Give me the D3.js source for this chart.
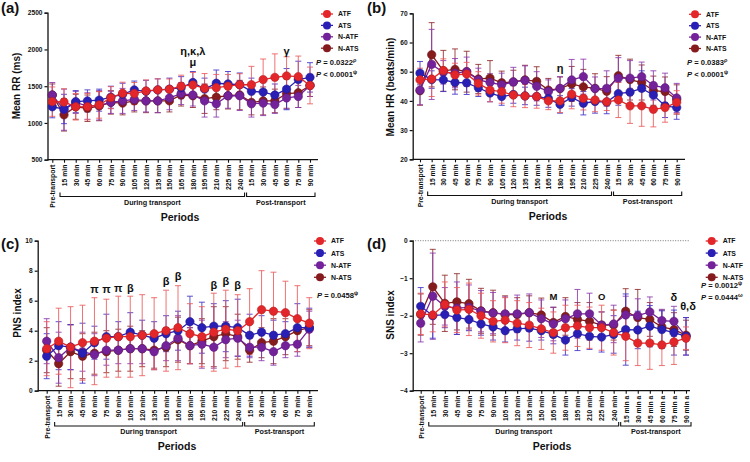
<!DOCTYPE html>
<html><head><meta charset="utf-8">
<script src="https://cdn.jsdelivr.net/npm/d3@7"></script>
<style>
body{margin:0;background:#fff}
svg{display:block}
text{font-family:"Liberation Sans",Arial,sans-serif;font-weight:bold;fill:#111}
</style>
</head><body><svg id="chart" width="750" height="462"></svg>
<script>
// ---------- categories / tick labels ----------
const periodLabels = ["Pre-transport","15 min","30 min","45 min","60 min","75 min","90 min","105 min","120 min","135 min","150 min","165 min","180 min","195 min","210 min","225 min","240 min","15 min","30 min","45 min","60 min","75 min","90 min"];
const periodLabelsD = ["Pre-transport","15 min","30 min","45 min","60 min","75 min","90 min","105 min","120 min","135 min","150 min","165 min","180 min","195 min","210 min","225 min","240 min","15 min a","30 min a","45 min a","60 min a","75 min a","90 min a"];
const seriesNames = ["ATF","ATS","N-ATF","N-ATS"];

// ---------- (a) Mean RR (ms) ----------
const rrATF  = [1290,1285,1220,1222,1245,1344,1404,1400,1435,1450,1458,1500,1517,1472,1480,1500,1520,1520,1590,1620,1640,1630,1510];
const rrATS  = [1220,1190,1290,1300,1310,1350,1390,1450,1430,1450,1460,1480,1550,1460,1540,1530,1520,1430,1420,1380,1460,1590,1620];
const rrNATF = [1380,1180,1280,1230,1240,1280,1300,1320,1300,1300,1340,1400,1380,1300,1260,1370,1370,1260,1270,1250,1340,1360,1510];
const rrNATS = [1380,1110,1220,1200,1230,1280,1270,1300,1300,1300,1300,1380,1370,1330,1350,1370,1380,1280,1300,1300,1400,1410,1510];
const rrATFsd  = [200,180,180,180,180,150,150,150,150,150,140,150,170,200,180,160,150,250,280,320,260,280,250];
const rrATSsd  = [150,200,150,150,150,150,150,120,150,150,150,150,150,150,180,170,160,180,160,150,280,250,200];
const rrNATFsd = [170,280,150,180,200,150,170,150,150,160,160,150,150,220,180,170,200,180,170,120,150,150,150];
const rrNATSsd = [150,220,170,180,200,160,160,150,160,160,150,150,160,200,170,180,200,170,190,160,200,200,150];

// ---------- (b) Mean HR (beats/min) ----------
const hrATF  = [47.2,47.5,50.4,48.9,49.2,46.0,43.7,43.2,42.0,41.7,41.5,40.0,40.0,42.3,40.9,40.3,39.7,40.3,38.3,38.3,37.1,37.7,39.5];
const hrATS  = [49.5,47.3,47.2,46.3,46.2,44.5,42.7,41.5,42.2,41.7,41.5,40.8,38.8,41.2,39.2,39.8,39.6,42.5,43.0,44.3,42.0,38.3,37.7];
const hrNATF = [43.7,52.5,49.8,49.5,50.0,47.2,46.3,45.5,46.5,47.0,45.0,43.2,44.3,47.2,48.3,44.2,44.3,47.8,47.8,48.3,45.3,44.5,41.0];
const hrNATS = [43.5,55.8,50.3,50.8,50.0,47.5,47.8,46.2,46.5,47.2,46.7,43.7,44.2,45.8,44.8,44.3,43.3,48.6,47.3,46.3,43.5,43.2,40.5];
const hrATFsd  = [4,6,4,4,4,4,4,4,4,4,4,3,4,5,4,4,3,6,6,7,6,5,4];
const hrATSsd  = [4,3,4,4,4,3,3,3,3,3,3,3,3,3,4,4,4,4,4,6,4,4,4];
const hrNATFsd = [5,12,4,5,5,4,3,4,5,5,5,4,4,7,6,4,6,7,6,5,5,5,5];
const hrNATSsd = [5,11,7,7,7,5,6,4,4,5,5,4,4,6,6,5,5,7,7,6,5,5,5];

// ---------- (c) PNS index ----------
const pnsATF  = [2.8,3.3,2.9,3.2,3.3,3.5,3.6,3.6,3.7,3.8,4.0,4.2,3.8,3.6,3.9,4.1,4.0,4.6,5.4,5.3,5.2,4.8,4.5];
const pnsATS  = [2.3,3.0,2.9,2.5,3.2,3.6,3.6,3.9,3.7,3.5,3.8,4.0,4.6,4.2,4.3,4.3,4.2,3.7,3.9,3.7,3.8,4.2,4.2];
const pnsNATF = [3.3,2.2,2.9,2.6,2.4,2.7,2.7,2.8,2.8,2.6,3.0,3.5,3.0,3.1,2.9,3.4,3.5,2.9,2.9,2.6,3.0,3.1,4.1];
const pnsNATS = [2.7,1.8,2.6,2.3,2.5,2.6,2.7,2.8,2.8,2.7,2.9,3.4,3.0,3.3,3.6,3.8,3.6,2.7,3.2,3.3,3.6,4.0,4.2];
const pnsATFsd  = [1.8,2.2,2.7,2.5,2.9,2.6,2.7,2.7,2.7,2.4,2.7,2.8,2.0,2.0,2.6,2.6,2.4,2.2,2.6,2.6,2.1,2.2,1.7];
const pnsATSsd  = [1.5,1.6,1.5,2.0,1.1,1.5,1.0,1.3,1.0,1.1,1.2,1.3,1.7,1.7,1.5,1.7,1.9,1.4,1.1,1.0,0.8,1.6,1.3];
const pnsNATFsd = [1.5,1.7,1.5,1.3,1.4,1.0,0.9,1.0,1.0,1.2,1.0,1.5,1.2,1.6,1.4,1.2,1.2,0.7,0.9,0.9,0.8,0.8,1.2];
const pnsNATSsd = [1.5,1.5,1.8,1.5,1.4,1.4,1.4,1.5,1.2,1.2,1.3,1.5,1.2,1.5,2.0,1.8,1.5,0.8,1.0,1.5,1.2,0.8,1.2];

// ---------- (d) SNS index ----------
const snsATF  = [-1.95,-1.98,-1.70,-1.85,-1.83,-2.00,-2.15,-2.12,-2.20,-2.25,-2.35,-2.45,-2.32,-2.27,-2.32,-2.32,-2.45,-2.55,-2.73,-2.73,-2.78,-2.70,-2.60];
const snsATS  = [-1.75,-2.00,-1.97,-2.05,-2.10,-2.22,-2.30,-2.40,-2.35,-2.33,-2.40,-2.50,-2.65,-2.48,-2.55,-2.57,-2.50,-2.37,-2.38,-2.28,-2.37,-2.45,-2.55];
const snsNATF = [-2.20,-1.48,-1.75,-1.80,-1.78,-1.88,-1.93,-1.95,-1.95,-1.92,-2.08,-2.22,-2.08,-1.95,-1.95,-2.25,-2.22,-1.98,-2.00,-1.90,-2.13,-2.15,-2.55];
const snsNATS = [-1.97,-1.23,-1.67,-1.63,-1.68,-1.87,-1.92,-1.97,-1.97,-1.92,-1.98,-2.18,-2.02,-2.10,-2.15,-2.25,-2.25,-1.88,-2.05,-2.10,-2.30,-2.37,-2.52];
const snsATFsd  = [0.55,0.45,0.6,0.6,0.7,0.6,0.55,0.6,0.6,0.6,0.55,0.55,0.6,0.55,0.55,0.6,0.6,0.65,0.6,0.7,0.55,0.6,0.3];
const snsATSsd  = [0.5,0.6,0.35,0.45,0.3,0.3,0.35,0.3,0.3,0.35,0.25,0.25,0.4,0.45,0.35,0.4,0.5,0.95,0.5,0.55,0.5,0.6,0.5];
const snsNATFsd = [0.5,1.15,0.5,0.7,0.6,0.55,0.55,0.45,0.5,0.5,0.5,0.45,0.5,0.65,0.55,0.35,0.5,0.5,0.45,0.4,0.3,0.4,0.5];
const snsNATSsd = [0.55,1.0,0.75,0.75,0.65,0.6,0.6,0.5,0.45,0.45,0.45,0.4,0.5,0.45,0.5,0.35,0.4,0.6,0.75,0.45,0.45,0.45,0.4];

// ---------- styles ----------
const lineColors = {"ATF":"#e3262a","ATS":"#2a1fb5","N-ATF":"#74229a","N-ATS":"#861b1e"};
const barColors  = {"ATF":"#ec5a5a","ATS":"#3f33c8","N-ATF":"#8a3aae","N-ATS":"#8f2a2a"};
const drawOrder = ["N-ATS","N-ATF","ATS","ATF"];

const svg = d3.select("#chart");

function drawPanel(cfg) {
  const g = svg.append("g");
  const idx = d3.range(cfg.labels.length);
  const x = d3.scalePoint().domain(idx).range([cfg.firstX, cfg.lastX]);
  const y = d3.scaleLinear().domain(cfg.domain).range([cfg.yBot, cfg.yTop]);

  if (cfg.zeroLine) {
    g.append("line").attr("x1", cfg.x0).attr("x2", cfg.axisEnd)
      .attr("y1", y(0)).attr("y2", y(0))
      .attr("stroke", "#777").attr("stroke-width", 1).attr("stroke-dasharray", "1,1.5");
  }

  const ya = g.append("g").attr("transform", `translate(${cfg.x0},0)`)
    .call(d3.axisLeft(y).tickValues(cfg.ticks).tickSize(3).tickPadding(2).tickFormat(d3.format("d")));
  ya.select(".domain").attr("stroke", "#111").attr("stroke-width", 1.3);
  ya.selectAll(".tick line").attr("stroke", "#111").attr("stroke-width", 1.2);
  ya.selectAll("text").style("font-size", "6.6px").style("font-family", '"Liberation Sans",Arial,sans-serif').style("font-weight", "bold").attr("fill", "#111");

  const xa = g.append("g").attr("transform", `translate(0,${cfg.yBot})`)
    .call(d3.axisBottom(x).tickSize(3).tickFormat(i => cfg.labels[i]));
  xa.select(".domain").remove();
  xa.append("line").attr("x1", cfg.x0).attr("x2", cfg.axisEnd).attr("y1", 0).attr("y2", 0)
    .attr("stroke", "#111").attr("stroke-width", 1.3);
  xa.selectAll(".tick line").attr("stroke", "#111").attr("stroke-width", 1.1);
  xa.selectAll("text").attr("transform", "rotate(-90)").attr("text-anchor", "end")
    .attr("x", -5).attr("y", 0).attr("dy", "0.35em")
    .style("font-size", "6.8px").style("font-family", '"Liberation Sans",Arial,sans-serif').style("font-weight", "bold").attr("fill", "#111");

  const bY = cfg.bracketY;
  const mid = (x(16) + x(17)) / 2;
  const b1s = x(1) - 4, b1e = mid - 1, b2s = mid + 1, b2e = x(22) + 5;
  g.append("path").attr("d", `M${b1s},${bY-4}V${bY}H${b1e}V${bY-4}`).attr("fill", "none").attr("stroke", "#111").attr("stroke-width", 1.1);
  g.append("path").attr("d", `M${b2s},${bY-4}V${bY}H${b2e}V${bY-4}`).attr("fill", "none").attr("stroke", "#111").attr("stroke-width", 1.1);
  g.append("text").attr("x", (b1s + b1e) / 2).attr("y", bY + 8).attr("text-anchor", "middle").style("font-size", "7.2px").text("During transport");
  g.append("text").attr("x", (b2s + b2e) / 2).attr("y", bY + 8).attr("text-anchor", "middle").style("font-size", "7.2px").text("Post-transport");
  g.append("text").attr("x", cfg.periodsX).attr("y", bY + 24).attr("text-anchor", "middle").style("font-size", "10.5px").text("Periods");

  g.append("text").attr("transform", `translate(${cfg.yTitleX},${cfg.yTitleY}) rotate(-90)`)
    .attr("text-anchor", "middle").style("font-size", "10px").text(cfg.yTitle);
  g.append("text").attr("x", cfg.labelX).attr("y", cfg.labelY).style("font-size", "15px").text(cfg.panel);

  const capW = 3;
  drawOrder.forEach(name => {
    const s = cfg.series[name];
    const vals = s.mean, sds = s.sd;
    const eb = g.append("g").attr("stroke", barColors[name]).attr("stroke-width", 1).attr("stroke-opacity", 0.85);
    idx.forEach(i => {
      const cx = x(i), yh = y(vals[i] + sds[i]), yl = y(vals[i] - sds[i]);
      eb.append("line").attr("x1", cx).attr("x2", cx).attr("y1", yh).attr("y2", yl);
      eb.append("line").attr("x1", cx - capW).attr("x2", cx + capW).attr("y1", yh).attr("y2", yh);
      eb.append("line").attr("x1", cx - capW).attr("x2", cx + capW).attr("y1", yl).attr("y2", yl);
    });
  });
  drawOrder.forEach(name => {
    const s = cfg.series[name];
    const line = d3.line().x((d, i) => x(i)).y(d => y(d));
    g.append("path").datum(s.mean).attr("d", line).attr("fill", "none")
      .attr("stroke", lineColors[name]).attr("stroke-width", 1.3);
    g.append("g").selectAll("circle").data(s.mean).join("circle")
      .attr("cx", (d, i) => x(i)).attr("cy", d => y(d)).attr("r", 4.2)
      .attr("fill", lineColors[name]).attr("stroke", d3.color(lineColors[name]).darker(0.6)).attr("stroke-width", 0.6);
  });

  seriesNames.forEach((name, k) => {
    const ly = cfg.legendY + k * cfg.legendDy;
    g.append("line").attr("x1", cfg.legendX - 6).attr("x2", cfg.legendX + 6).attr("y1", ly).attr("y2", ly)
      .attr("stroke", lineColors[name]).attr("stroke-width", 1.3);
    g.append("circle").attr("cx", cfg.legendX).attr("cy", ly).attr("r", 4).attr("fill", lineColors[name]);
    g.append("text").attr("x", cfg.legendX + 11).attr("y", ly + 2.4).style("font-size", "6.9px").text(name);
  });

  cfg.pTexts.forEach((p, k) => {
    const t = g.append("text").attr("x", cfg.pX).attr("y", cfg.pY + k * 12).style("font-size", "7.6px");
    t.append("tspan").style("font-style", "italic").text("P");
    t.append("tspan").text(" " + p[0]);
    t.append("tspan").attr("dy", -3).style("font-size", "5.5px").text(p[1]);
  });

  cfg.annots.forEach(a => {
    g.append("text").attr("x", x(a.i) + (a.dx || 0)).attr("y", a.y).attr("text-anchor", "middle")
      .style("font-size", (a.size || 11) + "px").text(a.t);
  });
}

drawPanel({
  panel: "(a)", labelX: 1, labelY: 13, labels: periodLabels,
  x0: 47.5, firstX: 52.3, lastX: 310, axisEnd: 318, yTop: 12.7, yBot: 159.7,
  domain: [500, 2500], ticks: [500, 1000, 1500, 2000, 2500],
  yTitle: "Mean RR (ms)", yTitleX: 20, yTitleY: 86,
  bracketY: 196.5, periodsX: 180,
  legendX: 327, legendY: 14, legendDy: 11.4,
  pX: 316, pY: 65, pTexts: [["= 0.0322", "ρ"], ["< 0.0001", "ψ"]],
  series: {
    "ATF": {mean: rrATF, sd: rrATFsd}, "ATS": {mean: rrATS, sd: rrATSsd},
    "N-ATF": {mean: rrNATF, sd: rrNATFsd}, "N-ATS": {mean: rrNATS, sd: rrNATSsd}
  },
  annots: [{i: 12, y: 55, t: "η,κ,λ"}, {i: 12, y: 66, t: "μ"}, {i: 20, y: 55, t: "γ"}]
});

drawPanel({
  panel: "(b)", labelX: 367, labelY: 13, labels: periodLabels,
  x0: 412.7, firstX: 420, lastX: 676.7, axisEnd: 685, yTop: 13.3, yBot: 159.3,
  domain: [20, 70], ticks: [20, 30, 40, 50, 60, 70],
  yTitle: "Mean HR (beats/min)", yTitleX: 394, yTitleY: 87,
  bracketY: 195.5, periodsX: 548,
  legendX: 695, legendY: 14.3, legendDy: 11.4,
  pX: 687, pY: 65, pTexts: [["= 0.0383", "ρ"], ["< 0.0001", "ψ"]],
  series: {
    "ATF": {mean: hrATF, sd: hrATFsd}, "ATS": {mean: hrATS, sd: hrATSsd},
    "N-ATF": {mean: hrNATF, sd: hrNATFsd}, "N-ATS": {mean: hrNATS, sd: hrNATSsd}
  },
  annots: [{i: 12, y: 72, t: "η"}]
});

drawPanel({
  panel: "(c)", labelX: 1, labelY: 249, labels: periodLabels,
  x0: 37.7, firstX: 46.7, lastX: 309.3, axisEnd: 318, yTop: 240.7, yBot: 390.7,
  domain: [0, 10], ticks: [0, 2, 4, 6, 8, 10],
  yTitle: "PNS index", yTitleX: 21, yTitleY: 313,
  bracketY: 426, periodsX: 177,
  legendX: 320, legendY: 241, legendDy: 12.1,
  pX: 317, pY: 298, pTexts: [["= 0.0458", "ψ"]],
  series: {
    "ATF": {mean: pnsATF, sd: pnsATFsd}, "ATS": {mean: pnsATS, sd: pnsATSsd},
    "N-ATF": {mean: pnsNATF, sd: pnsNATFsd}, "N-ATS": {mean: pnsNATS, sd: pnsNATSsd}
  },
  annots: [
    {i: 4, y: 293, t: "π"}, {i: 5, y: 293, t: "π"}, {i: 6, y: 292, t: "π"}, {i: 7, y: 292, t: "β"},
    {i: 10, y: 285, t: "β"}, {i: 11, y: 280, t: "β"}, {i: 14, y: 289, t: "β"}, {i: 15, y: 285, t: "β"}, {i: 16, y: 289, t: "β"}
  ]
});

drawPanel({
  panel: "(d)", labelX: 367, labelY: 249, labels: periodLabelsD, zeroLine: true,
  x0: 412.7, firstX: 420.7, lastX: 686, axisEnd: 690, yTop: 240.7, yBot: 390.7,
  domain: [-4, 0], ticks: [-4, -3, -2, -1, 0],
  yTitle: "SNS index", yTitleX: 394, yTitleY: 315,
  bracketY: 426, periodsX: 552,
  legendX: 711.7, legendY: 241, legendDy: 12.1,
  pX: 701, pY: 288, pTexts: [["= 0.0012", "ψ"], ["= 0.0444", "ω"]],
  series: {
    "ATF": {mean: snsATF, sd: snsATFsd}, "ATS": {mean: snsATS, sd: snsATSsd},
    "N-ATF": {mean: snsNATF, sd: snsNATFsd}, "N-ATS": {mean: snsNATS, sd: snsNATSsd}
  },
  annots: [
    {i: 11, y: 300, t: "M", size: 9.5}, {i: 15, y: 300, t: "O", size: 9.5},
    {i: 21, y: 301, t: "δ"}, {i: 22, dx: 2, y: 310, t: "θ,δ"}
  ]
});
</script>
</body></html>
